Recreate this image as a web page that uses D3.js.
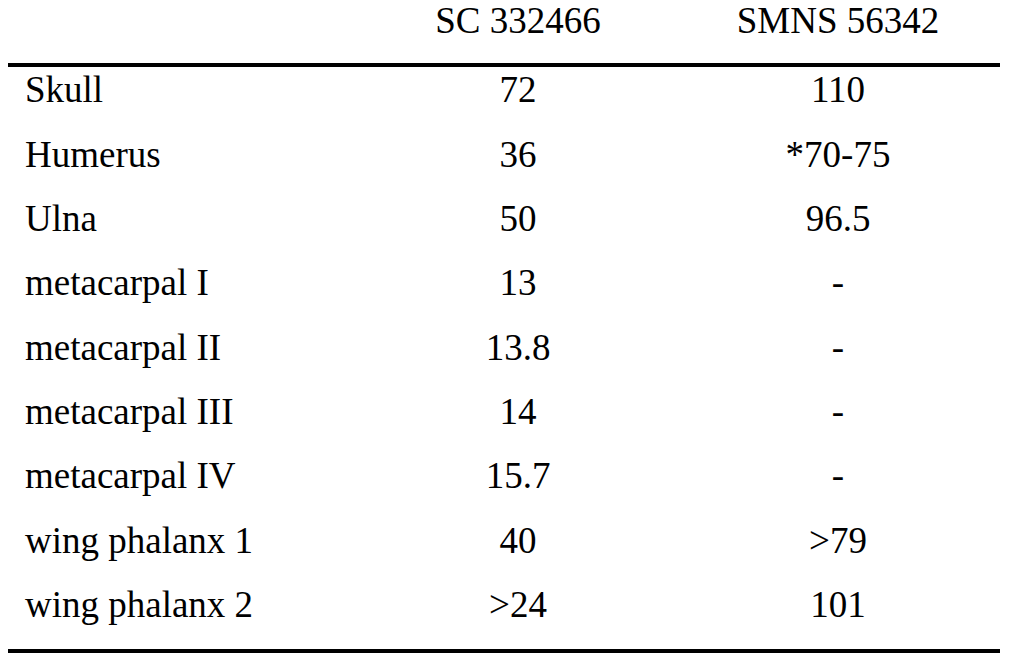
<!DOCTYPE html>
<html><head><meta charset="utf-8">
<script src="https://cdn.jsdelivr.net/npm/d3@7"></script>
<style>body{margin:0;background:#fff}</style></head>
<body><script>
const columns = ["SC 332466", "SMNS 56342"];
const elements = ["Skull","Humerus","Ulna","metacarpal I","metacarpal II","metacarpal III","metacarpal IV","wing phalanx 1","wing phalanx 2"];
const sc332466 = ["72","36","50","13","13.8","14","15.7","40",">24"];
const smns56342 = ["110","*70-75","96.5","-","-","-","-",">79","101"];

const W=1012,H=653;
const svg=d3.select("body").append("svg").attr("width",W).attr("height",H)
  .style("font-family","'Liberation Serif','Times New Roman',serif").style("font-size","37px");
const x=d3.scaleOrdinal().domain(columns).range([518,838]);
const y=d3.scaleBand().domain(elements).range([58,637]);
svg.append("g").selectAll("text").data(columns).join("text")
  .attr("x",d=>x(d)).attr("y",33).attr("text-anchor","middle").text(d=>d);
svg.append("line").attr("x1",8).attr("x2",1000).attr("y1",65).attr("y2",65).attr("stroke","#000").attr("stroke-width",4);
svg.append("line").attr("x1",8).attr("x2",1000).attr("y1",651).attr("y2",651).attr("stroke","#000").attr("stroke-width",4);
const rows=svg.append("g").selectAll("g").data(elements).join("g")
  .attr("transform",d=>`translate(0,${y(d)+y.bandwidth()/2+12})`);
rows.append("text").attr("x",25).text(d=>d);
rows.append("text").attr("x",x(columns[0])).attr("text-anchor","middle").text((d,i)=>sc332466[i]);
rows.append("text").attr("x",x(columns[1])).attr("text-anchor","middle").text((d,i)=>smns56342[i]);
</script></body></html>
